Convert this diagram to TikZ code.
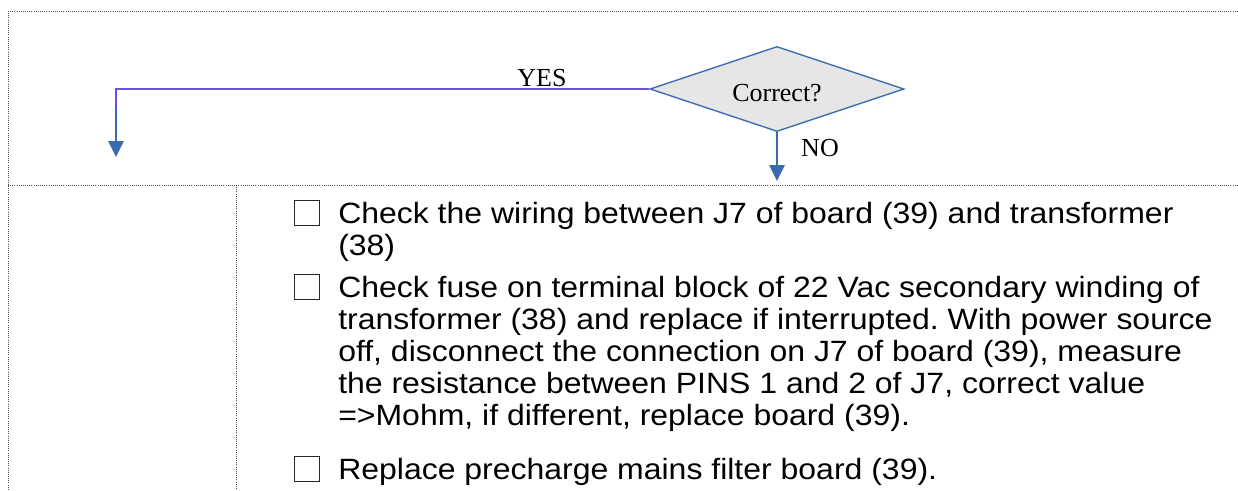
\documentclass[tikz,border=0pt]{standalone}
\usepackage{fontspec}
\setmainfont{Liberation Serif}
\newfontfamily\stepfont[FakeStretch=1.09]{Liberation Sans}
\usetikzlibrary{shapes.geometric,arrows.meta,positioning}
\definecolor{FlowBlue}{HTML}{3A6AB0}
\definecolor{YesViolet}{HTML}{6A4FE3}
\definecolor{DiamondGray}{HTML}{E6E6E6}
\definecolor{GridGray}{HTML}{505050}
\frenchspacing

\begin{document}
\begin{tikzpicture}[x=0.75pt,y=-0.75pt,
    grid/.style={GridGray, densely dotted, line width=0.6pt},
    decision/.style={diamond, draw=FlowBlue, fill=DiamondGray, line width=1pt,
                     aspect=3, inner sep=0pt, minimum width=190.5pt, minimum height=63.75pt,
                     text height=19pt, text depth=0pt,
                     font=\fontsize{19.5}{22}\selectfont},
    flowlabel/.style={font=\fontsize{19.5}{22}\selectfont, inner sep=0pt},
    yesline/.style={YesViolet, line width=1.1pt},
    flowarrow/.style={FlowBlue, line width=1.2pt, -{Triangle[width=11.5pt, length=12pt]}},
    tickbox/.style={draw=black!85, line width=0.9pt, minimum size=19pt, inner sep=0pt},
    steptext/.style={anchor=north west, align=left, inner sep=0pt,
                     font=\stepfont\fontsize{22}{24}\selectfont}]
  \useasboundingbox (0,0) rectangle (1238,490);

  % table frame
  \draw[grid] (8,11) -- (1238,11);
  \draw[grid] (8,11) -- (8,490);
  \draw[grid] (8,185) -- (1238,185);
  \draw[grid] (236,185) -- (236,490);

  % decision
  \node[decision] (check) at (777,89) {Correct?};

  \coordinate (yescorner) at (116,89);
  \coordinate (yesbend) at (116,108);
  \coordinate (yesend) at (116,157);
  \draw[yesline] (check.west) -- (yescorner) -- (yesbend);
  \draw[flowarrow, line width=1.6pt] (yesbend) -- (yesend);
  \node[flowlabel] (yeslbl) at (542,78) {YES};

  \coordinate (noend) at (777,181);
  \draw[flowarrow] (check.south) -- (noend);
  \node[flowlabel] (nolbl) at (820,148) {NO};

  % checklist
  \node[tickbox] (boxa) at (307,213) {};
  \node[tickbox] (boxb) at (307,287) {};
  \node[tickbox] (boxc) at (307,469) {};

  \node[steptext] (stepa) at (338,202) {Check the wiring between J7 of board (39) and transformer\\(38)};
  \node[steptext] (stepb) at (338,276) {Check fuse on terminal block of 22 Vac secondary winding of\\
    transformer (38) and replace if interrupted. With power source\\
    off, disconnect the connection on J7 of board (39), measure\\
    the resistance between PINS 1 and 2 of J7, correct value\\
    =>Mohm, if different, replace board (39).};
  \node[steptext] (stepc) at (338,458) {Replace precharge mains filter board (39).};
\end{tikzpicture}
\end{document}
